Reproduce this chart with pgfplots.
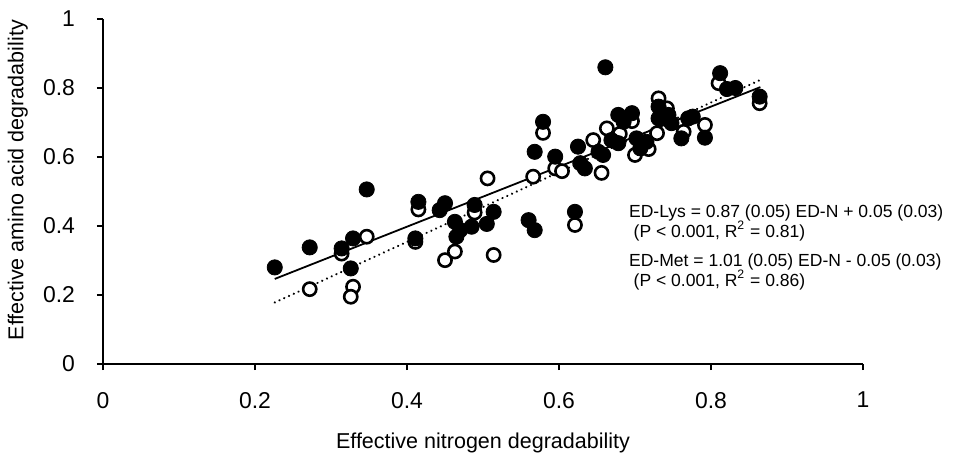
\documentclass[border=0pt]{standalone}
\usepackage{fontspec}
\setmainfont{Liberation Sans}
\usepackage{pgfplots}
\pgfplotsset{compat=1.18}

% ED-Met (open circles)
\pgfplotstableread{
x y
0.272 0.217
0.314 0.320
0.329 0.224
0.326 0.195
0.347 0.369
0.411 0.354
0.415 0.448
0.450 0.301
0.463 0.326
0.489 0.439
0.506 0.538
0.514 0.316
0.566 0.543
0.579 0.670
0.595 0.567
0.604 0.559
0.621 0.403
0.645 0.649
0.656 0.554
0.663 0.683
0.680 0.667
0.696 0.704
0.700 0.606
0.718 0.623
0.729 0.669
0.731 0.770
0.742 0.741
0.764 0.673
0.792 0.693
0.810 0.814
0.864 0.756
}\metdata

% ED-Lys (filled circles)
\pgfplotstableread{
x y
0.226 0.280
0.272 0.338
0.314 0.335
0.329 0.364
0.326 0.277
0.347 0.506
0.411 0.364
0.415 0.470
0.443 0.446
0.450 0.466
0.463 0.412
0.465 0.369
0.470 0.388
0.485 0.398
0.489 0.461
0.505 0.406
0.514 0.441
0.560 0.417
0.568 0.388
0.621 0.441
0.568 0.615
0.579 0.702
0.595 0.601
0.625 0.630
0.628 0.582
0.634 0.567
0.652 0.615
0.658 0.606
0.669 0.649
0.678 0.640
0.678 0.722
0.696 0.727
0.685 0.702
0.702 0.654
0.707 0.625
0.715 0.644
0.661 0.860
0.731 0.746
0.731 0.712
0.744 0.722
0.748 0.698
0.761 0.654
0.770 0.712
0.776 0.717
0.792 0.656
0.812 0.843
0.821 0.797
0.832 0.800
0.864 0.775
}\lysdata

\begin{document}
\begin{tikzpicture}
\begin{axis}[
    scale only axis,
    width=380bp, height=172.5bp,
    xmin=0, xmax=1, ymin=0, ymax=1,
    axis x line*=bottom, axis y line*=left,
    axis line style={line width=0.7bp},
    tick align=outside, major tick length=3bp,
    tick style={line width=0.7bp, black},
    xtick={0,0.2,0.4,0.6,0.8,1}, ytick={0,0.2,0.4,0.6,0.8,1},
    /pgf/number format/assume math mode=true,
    tick label style={font=\fontsize{11.5}{13}\selectfont},
    xticklabel style={yshift=-7.5bp},
    yticklabel style={xshift=-7.5bp},
    xlabel={Effective nitrogen degradability},
    ylabel={Effective amino acid degradability},
    label style={font=\fontsize{10.8}{12}\selectfont},
    xlabel style={at={(axis description cs:0.5,-0.228)}, anchor=center},
    ylabel style={at={(axis description cs:-0.112,0.533)}, anchor=center},
    clip=false,
]
\addplot[only marks, mark=*, mark size=3.3bp,
    mark options={fill=white, draw=black, line width=1.3bp}] table {\metdata};
\addplot[black, line width=0.9bp] coordinates {(0.226,0.2466) (0.865,0.8026)};
\addplot[black, line width=1.2bp, line cap=round, dash pattern=on 0.01bp off 2.6bp]
    coordinates {(0.226,0.1783) (0.864,0.8226)};
\addplot[only marks, mark=*, mark size=3.8bp,
    mark options={fill=black, draw=black}] table {\lysdata};

\node[anchor=base west, font=\fontsize{8.8}{11}\selectfont] at (axis cs:0.683,0.426)
    {ED-Lys = 0.87 (0.05) ED-N + 0.05 (0.03)};
\node[anchor=base west, font=\fontsize{8.8}{11}\selectfont] at (axis cs:0.689,0.368)
    {(P < 0.001, R\textsuperscript{2} = 0.81)};
\node[anchor=base west, font=\fontsize{8.8}{11}\selectfont] at (axis cs:0.683,0.284)
    {ED-Met = 1.01 (0.05) ED-N - 0.05 (0.03)};
\node[anchor=base west, font=\fontsize{8.8}{11}\selectfont] at (axis cs:0.689,0.226)
    {(P < 0.001, R\textsuperscript{2} = 0.86)};
\end{axis}
\pgfresetboundingbox
\path[use as bounding box] ([shift={(-51.5bp,-45bp)}]current axis.south west)
    rectangle ([shift={(426bp,182bp)}]current axis.south west);
\end{tikzpicture}
\end{document}
